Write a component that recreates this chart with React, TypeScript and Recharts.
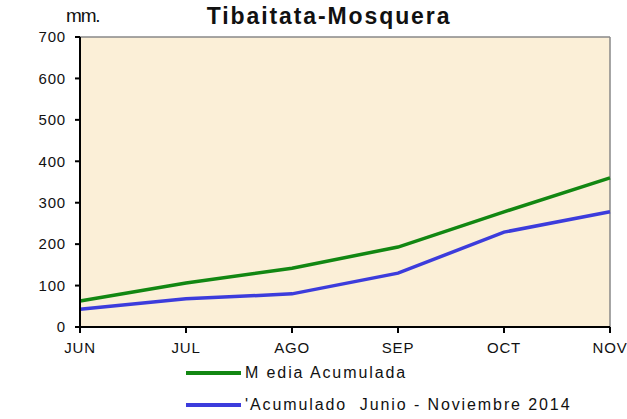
import { LineChart, Line, XAxis, YAxis, CartesianGrid, ReferenceLine } from "recharts";

// Tibaitata-Mosquera accumulated rainfall, Jun–Nov

const months = ["JUN", "JUL", "AGO", "SEP", "OCT", "NOV"];
const mediaAcumulada = [63, 106, 142, 193, 278, 360];
const acumulado2014 = [43, 68, 80, 130, 229, 278];
const yTicks = [0, 100, 200, 300, 400, 500, 600, 700];

const SERIES = [
  { key: "media", name: "M edia Acumulada", color: "#128712" },
  { key: "acum", name: "'Acumulado  Junio - Noviembre 2014", color: "#3c3cdc" },
];

const data = months.map((m, i) => ({ month: m, media: mediaAcumulada[i], acum: acumulado2014[i] }));

const FONT = "'Liberation Sans', Arial, sans-serif";

function LegendBox() {
  return (
    <div style={{ position: "absolute", left: 186, top: 357, fontFamily: FONT, fontSize: 16, color: "#111" }}>
      {SERIES.map((s) => (
        <div key={s.key} style={{ display: "flex", alignItems: "center", height: 32 }}>
          <div style={{ width: 55, height: 4, background: s.color, marginRight: 4 }} />
          <span style={{ letterSpacing: 1.9, whiteSpace: "pre" }}>{s.name}</span>
        </div>
      ))}
    </div>
  );
}

export default function App() {
  return (
    <div style={{ position: "absolute", left: 0, top: 0, width: 627, height: 419, background: "#fff" }}>
      <div
        style={{
          position: "absolute",
          left: 0,
          width: 658,
          top: 3,
          textAlign: "center",
          fontFamily: FONT,
          fontWeight: "bold",
          fontSize: 23,
          letterSpacing: 1.9,
          color: "#111",
        }}
      >
        Tibaitata-Mosquera
      </div>
      <div
        style={{
          position: "absolute",
          left: 66,
          top: 5,
          fontFamily: FONT,
          fontSize: 19,
          letterSpacing: -1.2,
          color: "#111",
        }}
      >
        mm.
      </div>
      <LineChart width={627} height={419} data={data} margin={{ top: 37, right: 17, left: 10, bottom: 62 }}>
        <CartesianGrid horizontal={false} vertical={false} fill="#fbefd7" />
        <ReferenceLine y={700} stroke="#888" strokeWidth={1.5} />
        <ReferenceLine x="NOV" stroke="#888" strokeWidth={1.5} />
        <XAxis
          dataKey="month"
          axisLine={{ stroke: "#000", strokeWidth: 2 }}
          tickLine={{ stroke: "#000", strokeWidth: 2 }}
          tickSize={6}
          tickMargin={9}
          tick={{ fill: "#111", fontSize: 15, fontFamily: FONT, letterSpacing: 0.8 }}
          interval={0}
          height={30}
        />
        <YAxis
          domain={[0, 700]}
          ticks={yTicks}
          axisLine={{ stroke: "#000", strokeWidth: 2 }}
          tickLine={{ stroke: "#000", strokeWidth: 2 }}
          tickSize={5}
          tickMargin={9}
          tick={{ fill: "#111", fontSize: 15, fontFamily: FONT, letterSpacing: 0.8 }}
          width={70}
        />
        {SERIES.map((s) => (
          <Line
            key={s.key}
            dataKey={s.key}
            name={s.name}
            stroke={s.color}
            strokeWidth={3.5}
            dot={false}
            activeDot={false}
            type="linear"
            isAnimationActive={false}
          />
        ))}
      </LineChart>
      <LegendBox />
    </div>
  );
}
